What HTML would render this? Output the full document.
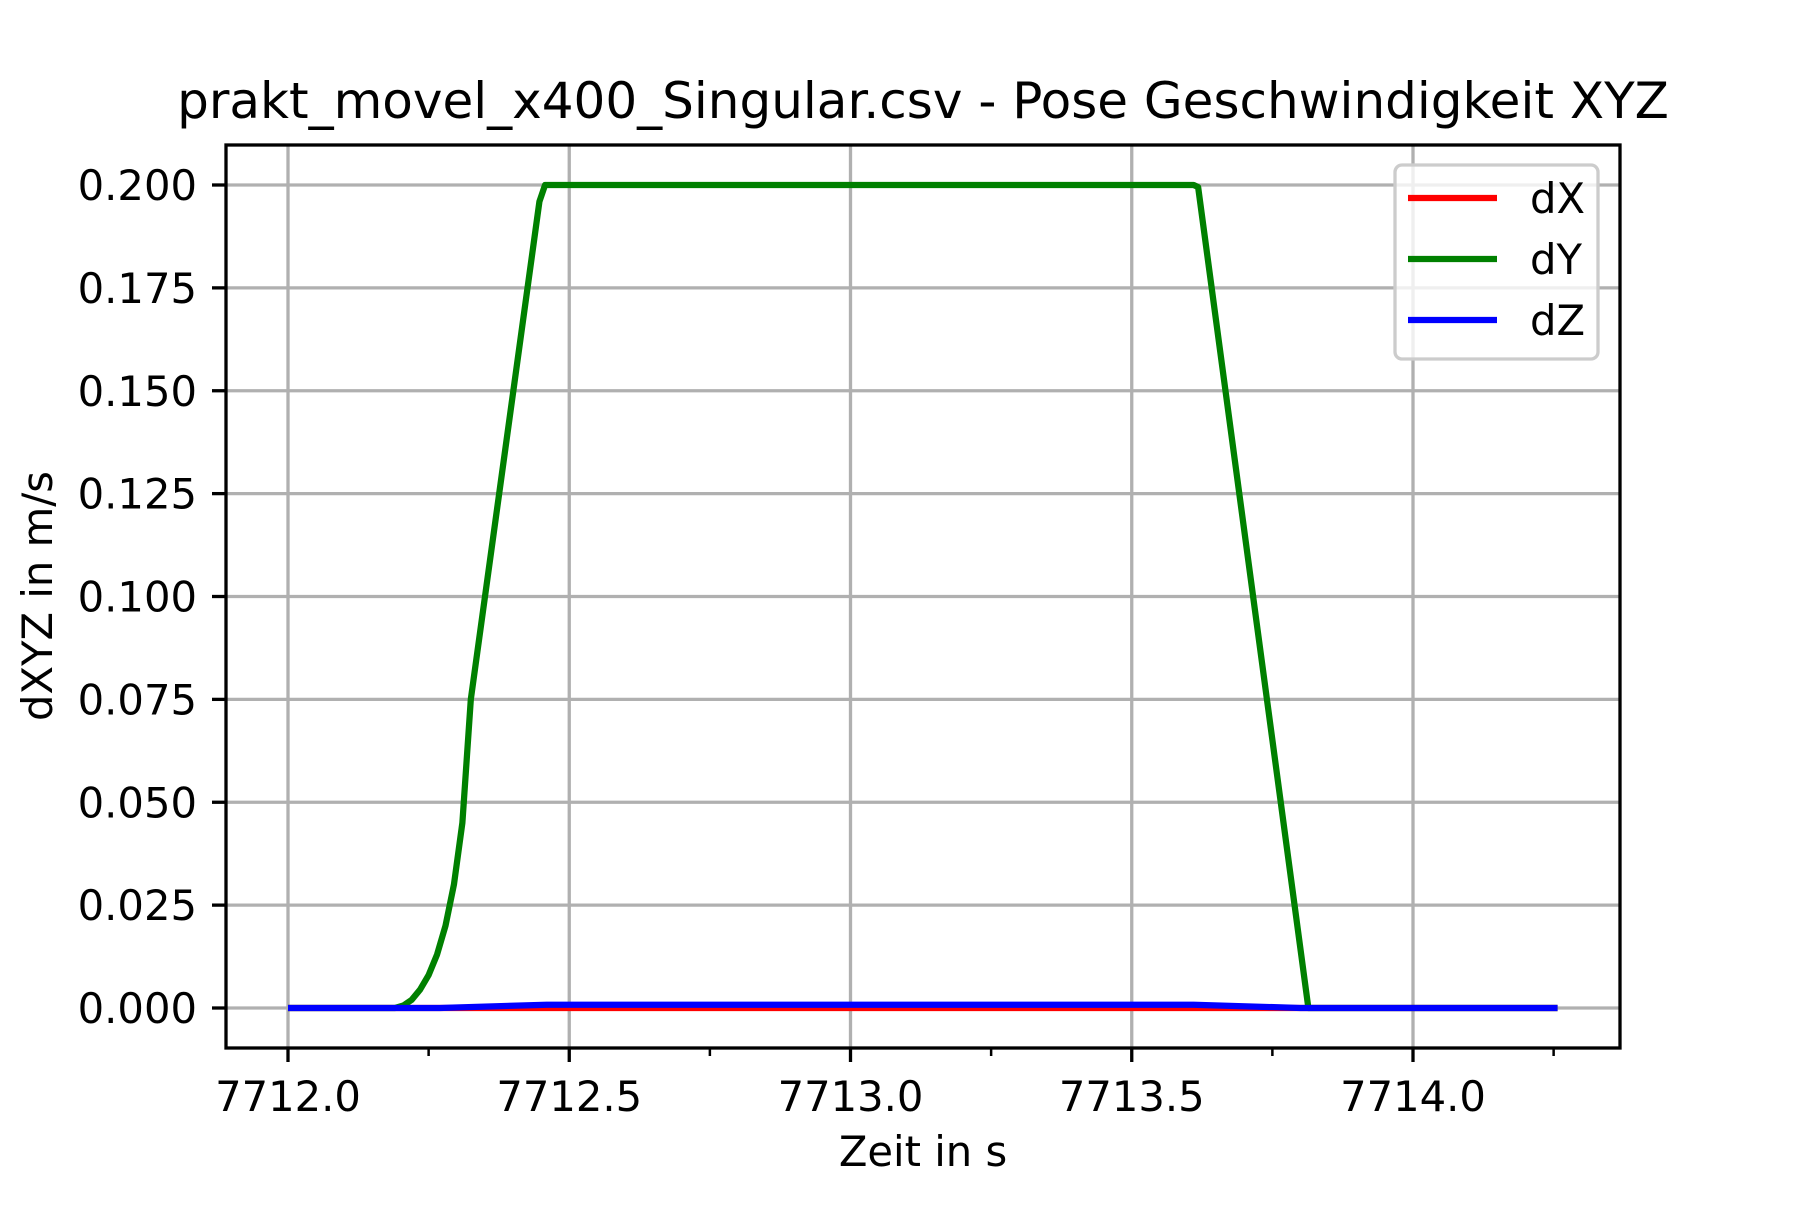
<!DOCTYPE html>
<html><head><meta charset="utf-8"><style>
body{margin:0;background:#fff}
svg text{font-family:"DejaVu Sans","Liberation Sans",sans-serif;fill:#000}
</style></head><body>
<svg id="c" width="1800" height="1200" xmlns="http://www.w3.org/2000/svg"></svg>
<script>
const xTicks=[7712.0,7712.5,7713.0,7713.5,7714.0];
const xTickLabels=["7712.0","7712.5","7713.0","7713.5","7714.0"];
const xMinor=[7712.25,7712.75,7713.25,7713.75,7714.25];
const yTicks=[0,0.025,0.05,0.075,0.1,0.125,0.15,0.175,0.2];
const yTickLabels=["0.000","0.025","0.050","0.075","0.100","0.125","0.150","0.175","0.200"];
const dYt=[7712.0,7712.19,7712.205,7712.22,7712.235,7712.25,7712.265,7712.28,7712.295,7712.31,7712.325,7712.447,7712.457,7713.61,7713.618,7713.814,7714.257];
const dYv=[0,0,0.0006,0.002,0.0045,0.008,0.013,0.02,0.03,0.045,0.075,0.196,0.2,0.2,0.1995,0,0];
const dXt=[7712.0,7714.257];
const dXv=[0,0];
const dZt=[7712.0,7712.27,7712.46,7713.61,7713.8,7714.257];
const dZv=[0,0,0.0008,0.0008,0,0];
const L=226,R=1620,T=145,B=1048;
const X=t=>288+(t-7712)*562.5;
const Y=v=>1008-v*4115;
const svg=document.getElementById('c');
const NS='http://www.w3.org/2000/svg';
function mk(tag,attrs,parent){const e=document.createElementNS(NS,tag);for(const k in attrs)e.setAttribute(k,attrs[k]);(parent||svg).appendChild(e);return e;}
xTicks.forEach((t,i)=>{
 const g=mk('line',{x1:X(t),x2:X(t),y1:T,y2:B,stroke:'#b0b0b0','stroke-width':3.3});
 
 
 const tk=mk('line',{x1:X(t),x2:X(t),y1:B,y2:B+14,stroke:'#000','stroke-width':3.3});
 
 
 const tx=mk('text',{x:X(t),y:B+63,'font-size':41.7,'text-anchor':'middle'});
 tx.textContent=xTickLabels[i];
 
 
});
xMinor.forEach(t=>{
 const tk=mk('line',{x1:X(t),x2:X(t),y1:B,y2:B+8,stroke:'#000','stroke-width':2.5});
 
 
});
yTicks.forEach((v,i)=>{
 const g=mk('line',{x1:L,x2:R,y1:Y(v),y2:Y(v),stroke:'#b0b0b0','stroke-width':3.3});
 
 
 const tk=mk('line',{x1:L-14,x2:L,y1:Y(v),y2:Y(v),stroke:'#000','stroke-width':3.3});
 
 
 const tx=mk('text',{x:L-29,y:Y(v)+15,'font-size':41.7,'text-anchor':'end'});
 tx.textContent=yTickLabels[i];
 
 
});
function series(ts,vs,color,name){
 const p=mk('polyline',{points:ts.map((t,i)=>X(t)+','+Y(vs[i])).join(' '),fill:'none',stroke:color,'stroke-width':6.25,'stroke-linejoin':'round'});
 
 
}
series(dXt,dXv,'#ff0000','series-dx');
series(dYt,dYv,'#008000','series-dy');
series(dZt,dZv,'#0000ff','series-dz');
const fr=mk('rect',{x:L,y:T,width:R-L,height:B-T,fill:'none',stroke:'#000','stroke-width':3.3});


const lg=mk('g',{});


mk('rect',{x:1395,y:165,width:203,height:194,rx:7,fill:'#fff','fill-opacity':0.8,stroke:'#cccccc','stroke-width':3.3},lg);
[['dX','#ff0000',198],['dY','#008000',259],['dZ','#0000ff',320]].forEach(e=>{
 const en=mk('g',{},lg);
 
 
 mk('line',{x1:1408,x2:1497,y1:e[2],y2:e[2],stroke:e[1],'stroke-width':6.25},en);
 const t=mk('text',{x:1530,y:e[2]+15,'font-size':41.7},en);
 t.textContent=e[0];
});
const ti=mk('text',{x:923,y:118,'font-size':50,'text-anchor':'middle'});
ti.textContent='prakt_movel_x400_Singular.csv - Pose Geschwindigkeit XYZ';


const xl=mk('text',{x:923,y:1166,'font-size':41.7,'text-anchor':'middle'});
xl.textContent='Zeit in s';


const yl=mk('text',{x:0,y:0,'font-size':41.7,'text-anchor':'middle',transform:'translate(52,596) rotate(-90)'});
yl.textContent='dXYZ in m/s';


</script>
</body></html>
